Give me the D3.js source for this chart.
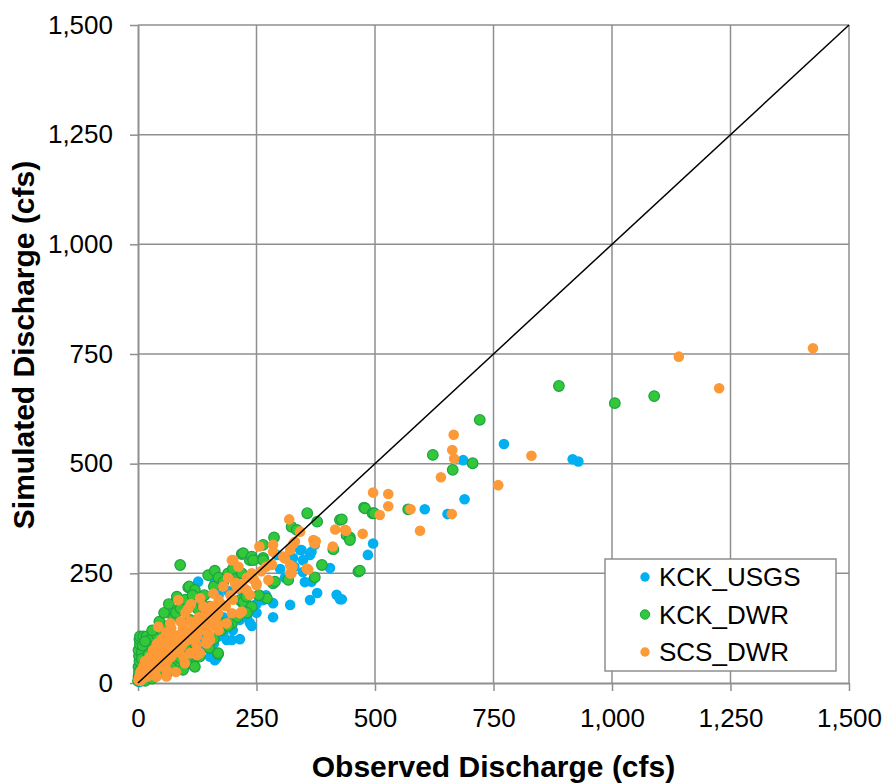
<!DOCTYPE html>
<html>
<head>
<meta charset="utf-8">
<script src="https://cdn.jsdelivr.net/npm/d3@7/dist/d3.min.js"></script>
<style>
	body { margin: 0; background: #fff; }
	svg { display: block; font-family: "Liberation Sans", Arial, sans-serif; }
</style>
</head>
<body>
<div id="chart"></div>
<script>

// Observed vs simulated discharge, cfs  ([observed, simulated])
var seriesNames = ['KCK_USGS', 'KCK_DWR', 'SCS_DWR'];
var seriesColors = ['#00b0f0', '#33c837', '#fd9a38'];

var kckUsgs = [
	[3,2],[8,5],[12,9],[18,12],[25,18],[32,22],[40,30],[48,35],[55,40],[60,30],[62,48],[70,52],
	[78,58],[88,60],[89,46],[95,70],[105,75],[110,90],[115,82],[125,95],[135,100],[140,120],
	[145,109],[152,60],[162,52],[166,57],[169,106],[180,150],[187,98],[198,98],[200,137],[225,170],
	[250,160],[127,231],[162,231],[187,242],[215,144],[222,207],[236,137],[240,130],[264,189],
	[285,182],[285,150],[293,292],[300,260],[310,240],[321,178],[327,285],[330,265],[342,303],
	[345,303],[348,280],[348,253],[352,230],[363,292],[363,189],[366,231],[366,299],[373,315],
	[378,205],[405,262],[419,201],[426,191],[430,191],[485,292],[496,318],[605,396],[653,385],
	[686,508],[689,419],[772,545],[917,510],[929,505],
	[100,40],[120,60],[140,80],[160,90],[180,110],[200,120],[215,100],[230,150],[250,180],
	[270,200],[130,150],[150,170],[170,200],[190,210]
];

var kckDwr = [
	[0,5],[1,15],[2,25],[1,37],[3,50],[2,62],[1,75],[4,88],[3,100],[4,106],[11,106],[18,106],
	[25,98],[8,70],[12,40],[15,20],[20,10],[30,30],[35,55],[45,70],[50,45],[60,80],[68,52],
	[70,100],[74,151],[74,166],[82,195],[82,197],[85,37],[89,269],[96,110],[105,80],[106,218],
	[108,220],[110,182],[110,144],[117,41],[120,37],[120,212],[130,130],[145,151],[148,246],
	[152,174],[162,256],[169,66],[169,68],[177,136],[180,136],[198,136],[201,242],[205,242],
	[208,261],[215,189],[219,250],[219,294],[222,296],[222,182],[222,185],[229,197],[236,280],
	[240,288],[240,174],[243,280],[264,315],[264,285],[264,280],[272,193],[285,227],[287,332],
	[289,231],[317,235],[324,356],[335,349],[357,387],[378,368],[373,241],[388,269],[412,305],
	[426,372],[430,373],[440,337],[447,332],[447,326],[465,254],[468,256],[477,400],[479,398],
	[495,387],[498,387],[570,396],[622,520],[664,486],[706,501],[721,600],[888,677],[1006,638],
	[1089,654],
	[20,50],[25,80],[40,110],[50,120],[60,130],[30,120],[45,140],[55,160],[65,180],[80,160],
	[90,170],[100,190],[115,200],[125,170],[135,180],[140,200],[160,220],[170,240],[180,230],
	[190,250],[200,260],[60,20],[80,40],[95,30],[130,60],[150,80],[160,100],[175,120],[190,130],
	[210,150],[230,160],[255,200],
	[5,30],[8,55],[10,85],[15,95],[22,65],[35,85],[40,20],[50,30],[70,35],[90,55],[105,60],
	[120,90],[15,5],[30,10]
];

var scsDwr = [
	[1,7],[3,15],[5,25],[8,10],[11,37],[15,20],[20,30],[25,60],[28,45],[32,75],[35,28],[39,14],
	[43,128],[45,50],[50,65],[55,40],[60,30],[60,98],[65,85],[68,136],[70,60],[75,95],[80,70],
	[82,75],[82,98],[85,189],[88,110],[92,85],[96,60],[96,121],[99,45],[103,106],[106,170],
	[110,68],[110,140],[115,100],[117,68],[120,125],[124,106],[124,87],[124,64],[128,150],
	[131,193],[131,68],[138,174],[140,120],[145,98],[145,90],[150,140],[155,175],[159,204],
	[160,130],[169,159],[170,190],[180,220],[187,136],[190,240],[198,280],[198,159],[201,280],
	[205,227],[208,227],[212,265],[215,159],[219,163],[229,212],[236,201],[250,227],[250,223],
	[256,311],[275,235],[282,269],[282,271],[285,315],[285,299],[307,288],[307,287],[310,284],
	[319,373],[321,269],[321,250],[321,303],[324,250],[326,265],[328,318],[331,322],[342,345],
	[356,261],[359,259],[370,326],[373,318],[375,323],[411,311],[416,350],[437,349],[439,347],
	[474,340],[496,434],[510,383],[528,431],[528,403],[575,396],[595,347],[639,469],[662,385],
	[663,531],[666,566],[667,511],[760,451],[830,518],[1141,744],[1226,672],[1424,763],
	[10,20],[20,15],[30,40],[40,35],[45,60],[55,55],[65,70],[70,80],[85,85],[90,100],[100,95],
	[105,115],[115,120],[125,130],[135,150],[140,135],[150,160],[160,165],[165,150],[175,180],
	[185,175],[195,200],[200,190],[210,215],[220,225],[230,240],[240,250],[245,235],[260,255],
	[270,265],[50,100],[60,115],[70,125],[40,90],[30,55],[18,40],[90,140],[100,160],[112,180],
	[148,98],[152,98],[169,132],[150,110],[170,120],[60,15],[80,25],
	[5,5],[12,12],[22,25],[28,20],[35,45],[42,40],[48,55],[58,62],[62,50],[72,72],[78,88],
	[88,78],[95,105],[108,100],[118,110],[128,120],[132,140],[145,145],[155,150],[38,65],
	[25,35],[15,50],[52,80],[75,110],[95,125]
];

var allSeries = [kckUsgs, kckDwr, scsDwr];

var axisTicks = [0, 250, 500, 750, 1000, 1250, 1500];
var oneToOne = [[0, 0], [1500, 1500]];

var xTitle = 'Observed Discharge (cfs)';
var yTitle = 'Simulated Discharge (cfs)';


var width = 886, height = 783;
var plotLeft = 138, plotRight = 849, plotTop = 25, plotBottom = 683;
var gridColor = '#8f8f8f';

var svg = d3.select('#chart').append('svg')
	.attr('width', width)
	.attr('height', height);

var x = d3.scaleLinear().domain([0, 1500]).range([plotLeft, plotRight]);
var y = d3.scaleLinear().domain([0, 1500]).range([plotBottom, plotTop]);
var fmt = d3.format(',');

// Grid lines
svg.append('g').selectAll('line')
	.data(axisTicks.slice(1))
	.enter().append('line')
	.attr('x1', (d) => x(d)).attr('x2', (d) => x(d))
	.attr('y1', plotTop).attr('y2', plotBottom)
	.attr('stroke', gridColor).attr('stroke-width', 1.5);

svg.append('g').selectAll('line')
	.data(axisTicks.slice(1))
	.enter().append('line')
	.attr('x1', plotLeft).attr('x2', plotRight)
	.attr('y1', (d) => y(d)).attr('y2', (d) => y(d))
	.attr('stroke', gridColor).attr('stroke-width', 1.5);

// Axes
var xAxis = svg.append('g')
	.attr('transform', 'translate(0,' + plotBottom + ')')
	.call(d3.axisBottom(x).tickValues(axisTicks).tickFormat(fmt)
		.tickSize(8).tickSizeOuter(0).tickPadding(18));

var yAxis = svg.append('g')
	.attr('transform', 'translate(' + plotLeft + ',0)')
	.call(d3.axisLeft(y).tickValues(axisTicks).tickFormat(fmt)
		.tickSize(8).tickSizeOuter(0).tickPadding(17));

[xAxis, yAxis].forEach(function(g) {
	g.select('.domain').attr('stroke', gridColor).attr('stroke-width', 2);
	g.selectAll('.tick line').attr('stroke', gridColor).attr('stroke-width', 1.5);
	g.selectAll('.tick text')
		.attr('fill', '#000')
		.style('font-size', '26px')
		.style('font-family', '"Liberation Sans", Arial, sans-serif');
});

// Points, drawn series by series so orange ends on top
allSeries.forEach(function(data, i) {
	svg.append('g').selectAll('circle')
		.data(data)
		.enter().append('circle')
		.attr('cx', (d) => x(d[0]))
		.attr('cy', (d) => y(d[1]))
		.attr('r', 5.3)
		.attr('fill', seriesColors[i])
		.attr('stroke', i == 1 ? '#1ba347' : 'none')
		.attr('stroke-width', 1.2);
});

// 1:1 line
svg.append('path')
	.datum(oneToOne)
	.attr('d', d3.line().x((d) => x(d[0])).y((d) => y(d[1])))
	.attr('stroke', '#000')
	.attr('stroke-width', 1.5)
	.attr('fill', 'none');

// Legend
var legend = svg.append('g');

legend.append('rect')
	.attr('x', 605).attr('y', 559)
	.attr('width', 231).attr('height', 112)
	.attr('fill', '#fff')
	.attr('stroke', gridColor).attr('stroke-width', 1.5);

var items = legend.selectAll('g')
	.data(seriesNames)
	.enter().append('g')
	.attr('transform', (d, i) => 'translate(645,' + (577 + i * 37.5) + ')');

items.append('circle')
	.attr('r', 4.7)
	.attr('fill', (d, i) => seriesColors[i])
	.attr('stroke', (d, i) => i == 1 ? '#1ba347' : 'none');

items.append('text')
	.attr('x', 14)
	.attr('dy', '0.35em')
	.style('font-size', '26px')
	.text((d) => d);

// Axis titles
svg.append('text')
	.attr('x', (plotLeft + plotRight) / 2)
	.attr('y', 777)
	.attr('text-anchor', 'middle')
	.style('font-size', '30px')
	.style('font-weight', 'bold')
	.text(xTitle);

svg.append('text')
	.attr('transform', 'translate(34,345) rotate(-90)')
	.attr('text-anchor', 'middle')
	.style('font-size', '30px')
	.style('font-weight', 'bold')
	.text(yTitle);

</script>
</body>
</html>
